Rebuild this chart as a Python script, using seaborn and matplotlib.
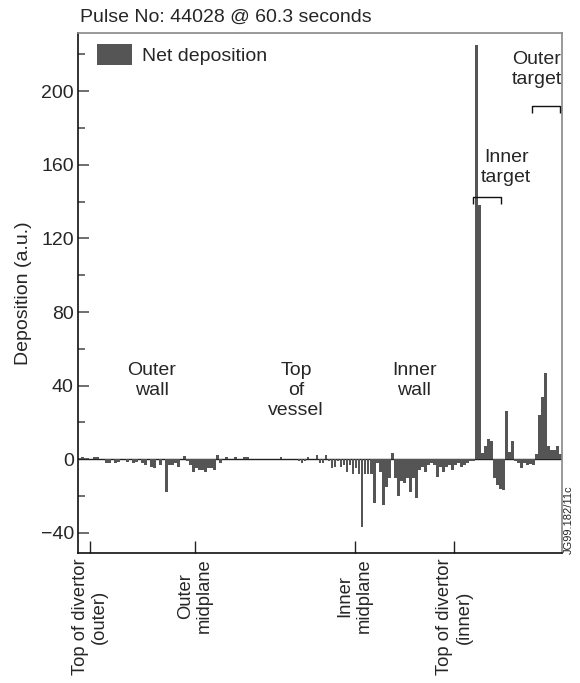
import numpy as np
import pandas as pd
import matplotlib
matplotlib.use("Agg")
import matplotlib.pyplot as plt
import seaborn as sns

# ---------------- data ----------------
# net deposition per wall tile, ordered poloidally (outer divertor -> outer target)
deposition = [
    0, 1, 0, 0, 0, 1, 1, 0, 0, -2,
    -2, 0, -2, -1.5, 0, 0, -1.5, 0, -2, -1.5,
    0, -2, -3, 0, -4, -5, 0, -3, 0, -18,
    -3, -3, -2, -4, 0, 1.5, -1, -3, -7, -5,
    -6, -6, -7, -5, -5, -6, 2, -2, 0, 1,
    0, 0, 1, 0, 0, 1, 1, 0, 0, 0,
    0, 0, 0, 0, 0, 0, 0, 1, 0, 0,
    0, 0, 0, -1, -2, -1, 1, 0, 0, 2,
    -2, -2, 2, -1, -5, -4, -1, -4, -3, -7,
    -3, -8, -5, -8, -37, -8, -8, -8, -24, -2,
    -7, -25, -15, -10, 3.6, -10.5, -20, -12, -13, -10,
    -18, -10, -21, -6, -4, -7, -3, -2, -3, -9.6,
    -4, -7, -4, -3, -6, -3, -2, -4, -3, -2,
    -1, -1, 225, 138, 3.3, 7, 11, 10, -10, -14,
    -16, -17, 26, 4, 10, -1, -2, -5, -2, -3,
    -2.5, -3, 3, 24, 34, 47, 7, 5, 5, 7,
    3,
]
tile = list(range(len(deposition)))

tick_positions = [3.5, 38.4, 91.6, 124.6]
tick_labels = ["Top of divertor\n(outer)", "Outer\nmidplane",
               "Inner\nmidplane", "Top of divertor\n(inner)"]

region_labels = ["Outer\nwall", "Top\nof\nvessel", "Inner\nwall",
                 "Inner\ntarget", "Outer\ntarget"]
region_x = [24.0, 72.0, 111.3, 141.9, 152.2]
region_y = [53, 53, 53, 168.5, 222]

df = pd.DataFrame({"tile": tile, "deposition": deposition})

# ---------------- style ----------------
sns.set_theme(style="ticks")
plt.rcParams["font.family"] = ["Liberation Sans", "DejaVu Sans"]
FS = 14
plt.rcParams["font.size"] = FS

fig = plt.figure(figsize=(5.80, 6.83), dpi=100)
ax = fig.add_axes([78 / 580, 1 - 553 / 683, 484 / 580, (553 - 33.3) / 683])

bar_color = "#555555"
ax.axhline(0, color="#222222", lw=1.0, zorder=1)
sns.barplot(data=df, x="tile", y="deposition", color=bar_color, width=0.93,
            saturation=1, linewidth=0, label="Net deposition", ax=ax, zorder=2)

ax.set_xlim(-0.5, len(deposition) - 0.5)
ax.set_ylim(-51, 231.5)

ax.set_yticks([-40, 0, 40, 80, 120, 160, 200])
ax.set_yticklabels(["\u221240", "0", "40", "80", "120", "160", "200"])
ax.set_yticks([-20, 20, 60, 100, 140, 180, 220], minor=True)
ax.tick_params(axis="y", which="major", direction="in", length=8, width=1.2,
               color="#555555", labelsize=FS, pad=3)
ax.tick_params(axis="y", which="minor", direction="in", length=5, width=1.2,
               color="#555555")

ax.set_xticks(tick_positions)
ax.set_xticklabels(tick_labels, rotation=90, ha="center", va="top",
                   multialignment="center", fontsize=13.2, linespacing=1.2)
ax.tick_params(axis="x", direction="in", length=9, width=1.0, color="#222222",
               pad=4)
ax.set_xlabel("")
ax.set_ylabel("Deposition (a.u.)", fontsize=FS, labelpad=6)

for side in ["left", "bottom"]:
    ax.spines[side].set_color("#111111")
    ax.spines[side].set_linewidth(1.2)
for side in ["top", "right"]:
    ax.spines[side].set_visible(True)
    ax.spines[side].set_color("#888888")
    ax.spines[side].set_linewidth(1.2)

for lbl, xx, yy in zip(region_labels, region_x, region_y):
    ax.text(xx, yy, lbl, ha="center", va="top", fontsize=FS,
            linespacing=1.25, zorder=5)

# target brackets
def bracket(x0, x1, ytop, drop):
    ax.plot([x0, x0, x1, x1], [ytop - drop, ytop, ytop, ytop - drop],
            color="#111111", lw=1.0, zorder=5, solid_capstyle="butt")

bracket(131.0, 140.1, 142.4, 3.8)
bracket(150.4, 159.8, 191.8, 3.6)

leg = ax.legend(loc="upper left", bbox_to_anchor=(0.039, 0.979), frameon=False,
                borderaxespad=0, borderpad=0, handlelength=1.8,
                handleheight=1.23, handletextpad=0.5, fontsize=FS)

fig.text(80 / 580, 1 - 17 / 683, "Pulse No: 44028 @ 60.3 seconds",
         ha="left", va="center", fontsize=FS)
fig.text(569 / 580, 1 - 554 / 683, "JG99.182/11c", rotation=90,
         ha="center", va="bottom", fontsize=8)

fig.savefig("out.png", dpi=100)
